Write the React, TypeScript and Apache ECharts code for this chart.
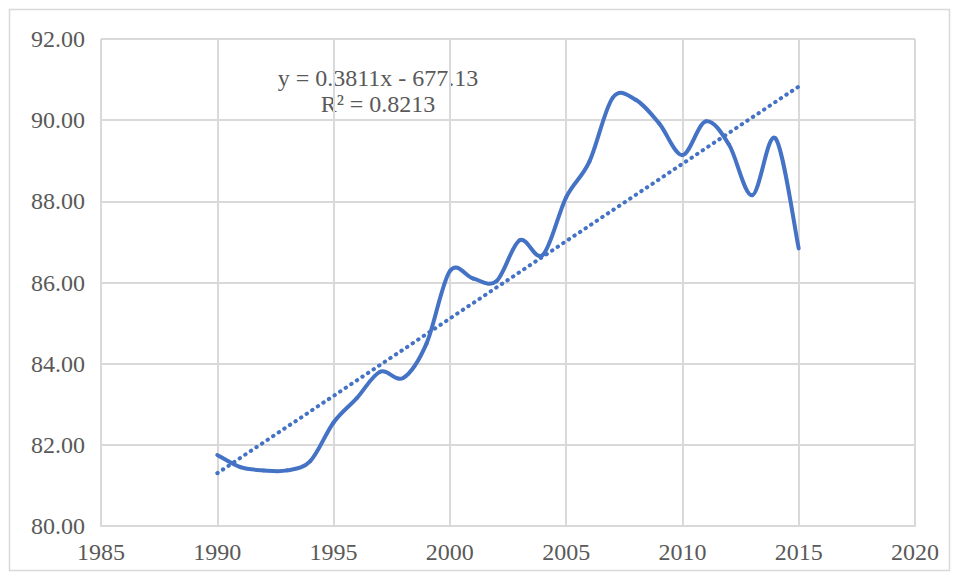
import React, { useEffect, useRef } from "react";
import * as echarts from "echarts";

const years = [1990, 1991, 1992, 1993, 1994, 1995, 1996, 1997, 1998, 1999, 2000, 2001, 2002, 2003, 2004, 2005, 2006, 2007, 2008, 2009, 2010, 2011, 2012, 2013, 2014, 2015];
const values = [81.75, 81.45, 81.37, 81.37, 81.6, 82.55, 83.15, 83.8, 83.65, 84.5, 86.28, 86.1, 86.03, 87.04, 86.68, 88.1, 88.98, 90.55, 90.5, 89.92, 89.14, 89.97, 89.4, 88.15, 89.55, 86.84];
const trendYears = [1990, 2015];
const trendValues = [81.3, 90.83];
const xTicks = [1985, 2020, 5];
const yTicks = [80, 92, 2];
const equationText = "y = 0.3811x - 677.13";
const r2Text = "R² = 0.8213";

export default function App() {
  const ref = useRef<HTMLDivElement>(null);
  useEffect(() => {
    if (!ref.current) return;
    const chart = echarts.init(ref.current, null, { renderer: "svg" });
    const font = "Liberation Serif";
    const n = years.length;
    chart.setOption({
      animation: false,
      backgroundColor: "#ffffff",
      textStyle: { fontFamily: font },
      grid: { left: 101, right: 44, top: 39, bottom: 54 },
      xAxis: {
        type: "value",
        min: xTicks[0],
        max: xTicks[1],
        interval: xTicks[2],
        axisLine: { show: true, lineStyle: { color: "#d9d9d9", width: 2 } },
        axisTick: { show: false },
        splitLine: { show: true, lineStyle: { color: "#d9d9d9", width: 2 } },
        axisLabel: { color: "#595959", fontFamily: font, fontSize: 24, margin: 14, formatter: (v: number) => String(v) },
      },
      yAxis: {
        type: "value",
        min: yTicks[0],
        max: yTicks[1],
        interval: yTicks[2],
        axisLine: { show: false },
        axisTick: { show: false },
        splitLine: { show: true, lineStyle: { color: "#d9d9d9", width: 2 } },
        axisLabel: {
          color: "#595959",
          fontFamily: font,
          fontSize: 24,
          margin: 16,
          formatter: (v: number) => v.toFixed(2),
        },
      },
      series: [
        {
          type: "line",
          data: trendYears.map((y, i) => [y, trendValues[i]]),
          showSymbol: false,
          lineStyle: { color: "#4472C4", width: 4, type: [0.5, 6.2], cap: "round" },
          z: 2,
        },
        {
          type: "custom",
          data: years.map((y, i) => [y, values[i]]),
          z: 3,
          renderItem: (params: any, api: any) => {
            const i = params.dataIndex;
            if (i >= n - 1) return null;
            const p = (k: number) => {
              const kk = Math.max(0, Math.min(n - 1, k));
              return api.coord([years[kk], values[kk]]);
            };
            const p0 = p(i - 1), p1 = p(i), p2 = p(i + 1), p3 = p(i + 2);
            const t = 1 / 6;
            return {
              type: "bezierCurve",
              shape: {
                x1: p1[0], y1: p1[1],
                cpx1: p1[0] + (p2[0] - p0[0]) * t,
                cpy1: p1[1] + (p2[1] - p0[1]) * t,
                cpx2: p2[0] - (p3[0] - p1[0]) * t,
                cpy2: p2[1] - (p3[1] - p1[1]) * t,
                x2: p2[0], y2: p2[1],
              },
              style: { stroke: "#4472C4", lineWidth: 4, fill: "none", lineCap: "round" },
            };
          },
        },
      ],
      graphic: [
        {
          type: "rect",
          shape: { x: 9.5, y: 9.5, width: 940, height: 561 },
          style: { fill: "none", stroke: "#d9d9d9", lineWidth: 1.5 },
          silent: true,
        },
        {
          type: "text",
          x: 378,
          y: 78,
          style: { text: equationText, fill: "#595959", fontFamily: font, fontSize: 24, align: "center", verticalAlign: "middle" },
        },
        {
          type: "text",
          x: 378,
          y: 104,
          style: { text: r2Text, fill: "#595959", fontFamily: font, fontSize: 24, align: "center", verticalAlign: "middle" },
        },
      ],
    });
    return () => chart.dispose();
  }, []);
  return <div ref={ref} style={{ position: "fixed", left: 0, top: 0, width: 959, height: 580 }} />;
}
